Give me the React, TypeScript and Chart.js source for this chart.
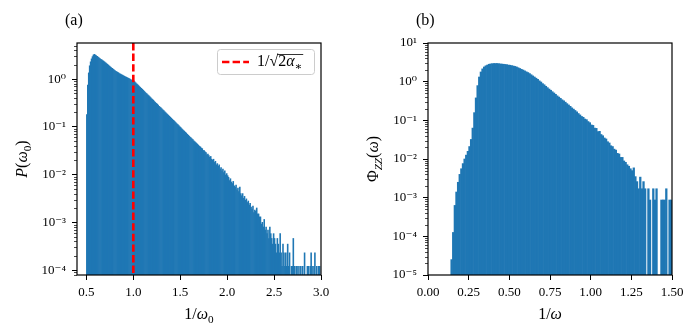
import React, { useEffect, useRef } from 'react';
import { Chart, registerables } from 'chart.js';

Chart.register(...registerables);

// ---------- data ----------
const BIN_WIDTH = 0.01;

// (a) P(omega_0) histogram, bins of width 0.01 starting at 0.50
const LEFT_BIN_START = 0.5;
const LEFT_VALUES = [
  0.18, 0.75, 1.35, 1.9, 2.3, 2.65, 2.95, 3.2, 3.3, 3.2,
  3.1, 2.98, 2.88, 2.8, 2.7, 2.6, 2.52, 2.44, 2.37, 2.28,
  2.2, 2.12, 2.04, 1.96, 1.88, 1.81, 1.74, 1.68, 1.62, 1.56,
  1.5, 1.46, 1.42, 1.38, 1.34, 1.3, 1.27, 1.24, 1.21, 1.18,
  1.15, 1.12, 1.1, 1.07, 1.05, 1.02, 1.0, 0.97, 0.95, 0.93,
  0.92, 0.88, 0.84, 0.8, 0.77, 0.735, 0.7, 0.67, 0.64, 0.615,
  0.59, 0.56, 0.535, 0.51, 0.49, 0.47, 0.45, 0.43, 0.41, 0.39,
  0.375, 0.36, 0.34, 0.325, 0.31, 0.3, 0.285, 0.27, 0.26, 0.25,
  0.238, 0.228, 0.218, 0.208, 0.199, 0.19, 0.182, 0.174, 0.166, 0.159,
  0.152, 0.145, 0.139, 0.133, 0.127, 0.121, 0.116, 0.111, 0.106, 0.101,
  0.097, 0.092, 0.088, 0.084, 0.081, 0.077, 0.074, 0.07, 0.067, 0.064,
  0.061, 0.059, 0.056, 0.054, 0.051, 0.049, 0.047, 0.045, 0.043, 0.041,
  0.039, 0.038, 0.036, 0.035, 0.032, 0.032, 0.03, 0.029, 0.026, 0.027,
  0.025, 0.023, 0.024, 0.021, 0.02, 0.021, 0.018, 0.019, 0.016, 0.017,
  0.015, 0.016, 0.013, 0.014, 0.012, 0.013, 0.011, 0.012, 0.0098, 0.0105,
  0.0095, 0.0088, 0.0075, 0.0082, 0.007, 0.0065, 0.0072, 0.0058, 0.0055, 0.006,
  0.0048, 0.0052, 0.0044, 0.0055, 0.004, 0.0036, 0.004, 0.0032, 0.0035, 0.0029,
  0.0031, 0.0026, 0.0028, 0.0023, 0.0025, 0.0021, 0.0019, 0.0022, 0.0016, 0.0018,
  0.0017, 0.002, 0.0015, 0.0015, 0.0013, 0.0013, 0.00092, 0.001, 0.0008, 0.00115,
  0.00069, 0.0008, 0.00058, 0.00069, 0.00046, 0.0008, 0.00058, 0.00046, 0.00035, 0.00058,
  0.00046, 0.00035, 0.00023, 0.00046, 0.00035, 0.00023, 0.00058, 0.00023, 0.00012, 0.00035,
  0.00023, 0.00012, 0.00023, 0.00012, 0.00035, 0.00012, 0.00023, 0, 0.00012, 0.00012,
  0.00046, 0.00012, 0, 0.00012, 0.00012, 0, 0.00012, 0, 0.00012, 0,
  0.00012, 0, 0.00023, 0, 0, 0.00012, 0.00012, 0, 0.00012, 0.00023,
  0.00012, 0, 0.00012, 0.00023, 0, 0.00012, 0, 0.00012, 0.00012, 0,
];

// (b) Phi_ZZ(omega) histogram, bins of width 0.01 starting at 0.14
const RIGHT_BIN_START = 0.14;
const RIGHT_VALUES = [
  2.5e-5, 1.26e-4, 6.3e-4, 1.4e-3, 2.5e-3, 4.0e-3, 5.6e-3, 7.6e-3, 0.01, 0.0126,
  0.0158, 0.021, 0.032, 0.063, 0.158, 0.38, 0.79, 1.32, 1.78, 2.14,
  2.4, 2.57, 2.69, 2.82, 2.88, 2.92, 2.95, 2.95, 2.95, 2.92,
  2.88, 2.85, 2.82, 2.79, 2.75, 2.69, 2.66, 2.6, 2.54, 2.48,
  2.4, 2.29, 2.19, 2.09, 2.0, 1.9, 1.8, 1.72, 1.62, 1.51,
  1.41, 1.32, 1.23, 1.15, 1.05, 0.98, 0.89, 0.83, 0.76, 0.7,
  0.645, 0.6, 0.55, 0.51, 0.47, 0.43, 0.4, 0.37, 0.34, 0.32,
  0.295, 0.27, 0.25, 0.23, 0.21, 0.195, 0.18, 0.166, 0.15, 0.138,
  0.126, 0.12, 0.108, 0.104, 0.093, 0.087, 0.076, 0.074, 0.063, 0.062,
  0.051, 0.052, 0.043, 0.04, 0.035, 0.033, 0.028, 0.026, 0.022, 0.021,
  0.018, 0.017, 0.014, 0.0135, 0.011, 0.011, 0.0089, 0.0082, 0.0071, 0.0065,
  0.0056, 0.005, 0.0059, 0.0035, 0.0026, 0.0017, 0.0034, 0.0017, 0.0026, 0.0017,
  0, 0.0017, 0.00087, 0, 0.0017, 0.00087, 0.0017, 0, 0, 0.00087,
  0.00087, 0.00087, 0.0017, 0, 0.00087, 0.00087,
];

const LEFT_X_TICKS = [0.5, 1.0, 1.5, 2.0, 2.5, 3.0];
const RIGHT_X_TICKS = [0, 0.25, 0.5, 0.75, 1.0, 1.25, 1.5];
const LEFT_Y_TICKS = [1e-4, 1e-3, 1e-2, 1e-1, 1];
const RIGHT_Y_TICKS = [1e-5, 1e-4, 1e-3, 1e-2, 1e-1, 1, 10];
const LEFT_X_RANGE: [number, number] = [0.4, 3.0];
const LEFT_Y_RANGE: [number, number] = [7.9e-5, 5.7];
const RIGHT_X_RANGE: [number, number] = [0, 1.5];
const RIGHT_Y_RANGE: [number, number] = [1e-5, 10];
const ALPHA_LINE_X = 1.0;

// ---------- styles ----------
const BAR_COLOR = '#1f77b4';
const LINE_COLOR = '#ff0000';
const FAMILY = "'Liberation Serif', 'DejaVu Serif', serif";

type Seg = { t: string; italic?: boolean; sub?: boolean };

const SUP_MAP: Record<string, string> = {
  '-': '⁻', '0': '⁰', '1': '¹', '2': '²', '3': '³', '4': '⁴',
  '5': '⁵', '6': '⁶', '7': '⁷', '8': '⁸', '9': '⁹',
};
function decadeLabel(v: number): string {
  const e = Math.round(Math.log10(v));
  return '10' + String(e).split('').map((c) => SUP_MAP[c] || c).join('');
}

function segFont(s: Seg, size: number) {
  const sz = s.sub ? size * 0.7 : size;
  return `${s.italic ? 'italic ' : ''}${sz}px ${FAMILY}`;
}

// draws segments with alphabetic baseline at y; returns start x of each segment and end x
function drawRich(ctx: CanvasRenderingContext2D, segs: Seg[], x: number, y: number, size: number, align: 'left' | 'center') {
  const widths = segs.map((s) => {
    ctx.font = segFont(s, size);
    return ctx.measureText(s.t).width;
  });
  const total = widths.reduce((a, b) => a + b, 0);
  let cx = align === 'center' ? x - total / 2 : x;
  const starts: number[] = [];
  ctx.textAlign = 'left';
  ctx.textBaseline = 'alphabetic';
  segs.forEach((s, i) => {
    ctx.font = segFont(s, size);
    starts.push(cx);
    ctx.fillText(s.t, cx, y + (s.sub ? size * 0.22 : 0));
    cx += widths[i];
  });
  return { starts, end: cx };
}

interface PanelProps {
  left: number;
  width: number;
  values: number[];
  binStart: number;
  xRange: [number, number];
  yRange: [number, number];
  xTicks: number[];
  yTicks: number[];
  xDecimals: number;
  yAxisWidth: number;
  padRight: number;
  panelLabel: string;
  xTitle: Seg[];
  yTitle: Seg[];
  vline?: number;
}

function Panel(p: PanelProps) {
  const ref = useRef<HTMLCanvasElement | null>(null);

  useEffect(() => {
    const canvas = ref.current;
    if (!canvas) return;
    const bars = p.values.map((v, i) => ({ x: p.binStart + (i + 0.5) * BIN_WIDTH, y: v }));
    const datasets: any[] = [
      {
        type: 'bar',
        data: bars,
        backgroundColor: BAR_COLOR,
        borderWidth: 0,
        barPercentage: 1,
        categoryPercentage: 1,
        order: 2,
      },
    ];
    if (p.vline !== undefined) {
      datasets.push({
        type: 'line',
        data: [
          { x: p.vline, y: p.yRange[1] },
          { x: p.vline, y: p.yRange[0] },
        ],
        borderColor: LINE_COLOR,
        borderWidth: 2.6,
        borderDash: [7.4, 3.2],
        pointRadius: 0,
        tension: 0,
        order: 1,
      });
    }

    const tickFont = { family: FAMILY, size: 13 };

    const decor = {
      id: 'decor',
      afterDraw(chart: any) {
        const ctx: CanvasRenderingContext2D = chart.ctx;
        const a = chart.chartArea;
        const ys = chart.scales.y;
        ctx.save();
        // minor log ticks
        ctx.strokeStyle = '#000';
        ctx.lineWidth = 0.7;
        const lo = Math.floor(Math.log10(p.yRange[0]));
        const hi = Math.ceil(Math.log10(p.yRange[1]));
        for (let d = lo; d < hi; d++) {
          for (let k = 2; k < 10; k++) {
            const v = k * Math.pow(10, d);
            if (v < p.yRange[0] || v > p.yRange[1]) continue;
            const y = Math.round(ys.getPixelForValue(v)) + 0.5;
            ctx.beginPath();
            ctx.moveTo(a.left - 3, y);
            ctx.lineTo(a.left, y);
            ctx.stroke();
          }
        }
        // frame
        ctx.lineWidth = 1.2;
        ctx.strokeRect(a.left, a.top, a.right - a.left, a.bottom - a.top);

        ctx.fillStyle = '#000';
        // panel label
        drawRich(ctx, [{ t: p.panelLabel }], a.left - 12, a.top - 18, 16, 'left');
        // x title
        drawRich(ctx, p.xTitle, (a.left + a.right) / 2, a.bottom + 44, 16, 'center');
        // y title (rotated)
        ctx.save();
        ctx.translate(a.left - 50, (a.top + a.bottom) / 2);
        ctx.rotate(-Math.PI / 2);
        drawRich(ctx, p.yTitle, 0, 0, 16, 'center');
        ctx.restore();

        // legend
        if (p.vline !== undefined) {
          const bx = a.right - 104;
          const by = a.top + 6;
          const bw = 97;
          const bh = 25;
          ctx.beginPath();
          ctx.roundRect(bx + 0.5, by + 0.5, bw, bh, 3);
          ctx.fillStyle = 'rgba(255,255,255,0.8)';
          ctx.fill();
          ctx.strokeStyle = '#cccccc';
          ctx.lineWidth = 1;
          ctx.stroke();
          ctx.beginPath();
          ctx.setLineDash([7.4, 3.2]);
          ctx.strokeStyle = LINE_COLOR;
          ctx.lineWidth = 2.6;
          ctx.moveTo(bx + 5, by + 13);
          ctx.lineTo(bx + 32, by + 13);
          ctx.stroke();
          ctx.setLineDash([]);
          ctx.fillStyle = '#000';
          const segs: Seg[] = [{ t: '1/√' }, { t: '2' }, { t: 'α', italic: true }, { t: '∗', sub: true }];
          const r = drawRich(ctx, segs, bx + 40, by + 17, 16, 'left');
          ctx.beginPath();
          ctx.strokeStyle = '#000';
          ctx.lineWidth = 0.8;
          ctx.moveTo(r.starts[1] - 1, by + 5.5);
          ctx.lineTo(r.end + 1, by + 5.5);
          ctx.stroke();
        }
        ctx.restore();
      },
    };

    const chart = new Chart(canvas, {
      type: 'bar',
      data: { datasets },
      options: {
        animation: false,
        responsive: false,
        events: [],
        layout: { padding: { left: 0, right: p.padRight, top: 43, bottom: 5 } },
        plugins: {
          legend: { display: false },
          tooltip: { enabled: false },
          title: { display: false },
        },
        scales: {
          x: {
            type: 'linear',
            min: p.xRange[0],
            max: p.xRange[1],
            offset: false,
            afterFit: (s: any) => {
              s.height = 55;
            },
            afterBuildTicks: (s: any) => {
              s.ticks = p.xTicks.map((v) => ({ value: v }));
            },
            ticks: {
              autoSkip: false,
              maxRotation: 0,
              padding: 5,
              color: '#000',
              font: tickFont,
              callback: (v: any) => Number(v).toFixed(p.xDecimals),
            },
            grid: {
              display: true,
              drawOnChartArea: false,
              drawTicks: true,
              tickLength: 5,
              tickWidth: 1,
              tickColor: '#000',
              offset: false,
            },
            border: { display: false },
          },
          y: {
            type: 'logarithmic',
            min: p.yRange[0],
            max: p.yRange[1],
            afterFit: (s: any) => {
              s.width = p.yAxisWidth;
            },
            afterBuildTicks: (s: any) => {
              s.ticks = p.yTicks.map((v) => ({ value: v }));
            },
            ticks: {
              autoSkip: false,
              padding: 6,
              color: '#000',
              font: tickFont,
              callback: (v: any) => decadeLabel(Number(v)),
            },
            grid: {
              display: true,
              drawOnChartArea: false,
              drawTicks: true,
              tickLength: 5,
              tickWidth: 1,
              tickColor: '#000',
            },
            border: { display: false },
          },
        },
      } as any,
      plugins: [decor],
    });
    return () => chart.destroy();
  }, []);

  return (
    <canvas
      ref={ref}
      width={p.width}
      height={335}
      style={{ position: 'absolute', left: p.left, top: 0, width: p.width, height: 335 }}
    />
  );
}

export default function App() {
  return (
    <div style={{ position: 'absolute', left: 0, top: 0, width: 697, height: 335, background: '#fff' }}>
      <Panel
        left={0}
        width={348}
        values={LEFT_VALUES}
        binStart={LEFT_BIN_START}
        xRange={LEFT_X_RANGE}
        yRange={LEFT_Y_RANGE}
        xTicks={LEFT_X_TICKS}
        yTicks={LEFT_Y_TICKS}
        xDecimals={1}
        yAxisWidth={77}
        padRight={27}
        panelLabel="(a)"
        xTitle={[{ t: '1/' }, { t: 'ω', italic: true }, { t: '0', sub: true }]}
        yTitle={[{ t: 'P', italic: true }, { t: '(' }, { t: 'ω', italic: true }, { t: '0', sub: true }, { t: ')' }]}
        vline={ALPHA_LINE_X}
      />
      <Panel
        left={348}
        width={349}
        values={RIGHT_VALUES}
        binStart={RIGHT_BIN_START}
        xRange={RIGHT_X_RANGE}
        yRange={RIGHT_Y_RANGE}
        xTicks={RIGHT_X_TICKS}
        yTicks={RIGHT_Y_TICKS}
        xDecimals={2}
        yAxisWidth={80}
        padRight={25}
        panelLabel="(b)"
        xTitle={[{ t: '1/' }, { t: 'ω', italic: true }]}
        yTitle={[{ t: 'Φ' }, { t: 'ZZ', italic: true, sub: true }, { t: '(' }, { t: 'ω', italic: true }, { t: ')' }]}
      />
    </div>
  );
}
